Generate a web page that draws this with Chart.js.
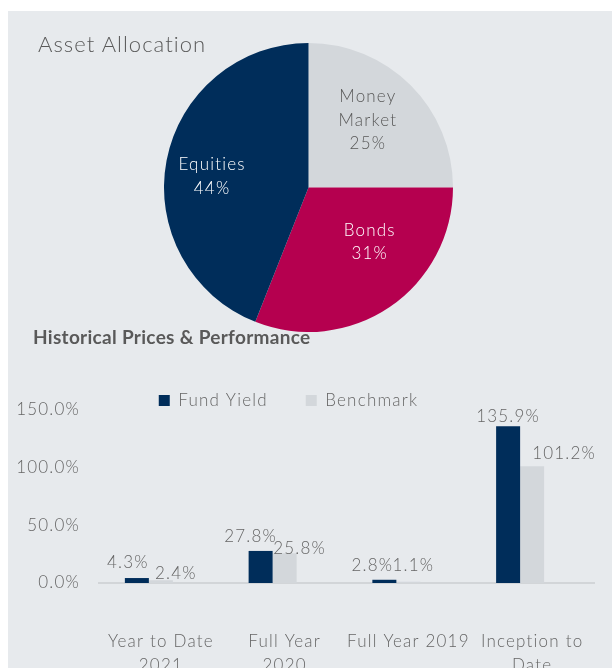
<!DOCTYPE html>
<html>
<head>
<meta charset="utf-8">
<script src="https://cdn.jsdelivr.net/npm/chart.js@4"></script>
<style>
  body { margin: 0; background: #fff; overflow: hidden; width: 612px; height: 668px; position: relative; font-family: Lato, sans-serif; }
  #panel { position: absolute; left: 8px; top: 11px; right: 0; bottom: 0; background: #e7eaed; }
  .title { position: absolute; color: #595959; white-space: nowrap; }
  #allocTitle { left: 38px; top: 31px; font-size: 22px; line-height: 26px; font-weight: 300; letter-spacing: 1.05px; }
  #perfTitle { left: 33px; top: 326px; font-size: 19px; line-height: 22px; font-weight: 700; letter-spacing: 0.3px; }
  #pieBox { position: absolute; left: 164px; top: 43px; width: 289px; height: 289px; }
  #barBox { position: absolute; left: -17px; top: 350px; width: 629px; height: 340px; }
</style>
</head>
<body>
<div id="panel"></div>
<div id="pieBox"><canvas id="pieChart" width="289" height="289"></canvas></div>
<div class="title" id="allocTitle">Asset Allocation</div>
<div class="title" id="perfTitle">Historical Prices &amp; Performance</div>
<div id="barBox"><canvas id="barChart" width="629" height="340"></canvas></div>
<script>
const allocationLabels = ["Money Market", "Bonds", "Equities"];
const allocationValues = [25, 31, 44];

const periods = [["Year to Date", "2021"], ["Full Year", "2020"], "Full Year 2019", ["Inception to", "Date"]];
const fundYield = [4.3, 27.8, 2.8, 135.9];
const benchmark = [2.4, 25.8, 1.1, 101.2];
const spacer = [null, null, null, null];
const yTicks = [0, 50, 100, 150];

const navy = "#002d5a";
const crimson = "#b5004f";
const lightGrey = "#d3d7db";
const textGrey = "#666";
const fontFamily = "Lato, sans-serif";

// hand placed label offsets (Excel had them nudged)
const pieLabelNudge = [[-5, -3], [10, -21], [-7, 6]];
const barLabelNudge = [
    [[-9, 16], [-10, 14], [-12, 14], [0, 10]],
    [[15, 7], [15, 5], [5, 16], [32, 13]],
];

// the source font is tracked out a bit, canvas needs it set by hand
const tracking = {
    id: "tracking",
    beforeUpdate(chart) { chart.ctx.letterSpacing = "1.2px"; },
    beforeDraw(chart) { chart.ctx.letterSpacing = "1.2px"; },
};

const pieLabels = {
    id: "pieLabels",
    afterDatasetsDraw(chart) {
        const ctx = chart.ctx;
        const meta = chart.getDatasetMeta(0);
        ctx.save();
        ctx.font = "300 17px " + fontFamily;
        ctx.textAlign = "center";
        ctx.textBaseline = "middle";
        meta.data.forEach((arc, i) => {
            const mid = (arc.startAngle + arc.endAngle) / 2;
            const r = arc.outerRadius * 0.63;
            const x = arc.x + Math.cos(mid) * r + pieLabelNudge[i][0];
            const y = arc.y + Math.sin(mid) * r + pieLabelNudge[i][1];
            const lines = allocationLabels[i].split(" ").concat(allocationValues[i] + "%");
            const lh = 23.5;
            ctx.fillStyle = i === 0 ? "#595959" : "#fff";
            lines.forEach((line, j) => {
                ctx.fillText(line, x, y + (j - (lines.length - 1) / 2) * lh);
            });
        });
        ctx.restore();
    },
};

const barLabels = {
    id: "barLabels",
    afterDatasetsDraw(chart) {
        const ctx = chart.ctx;
        ctx.save();
        ctx.font = "300 17px " + fontFamily;
        ctx.fillStyle = textGrey;
        ctx.textAlign = "center";
        ctx.textBaseline = "middle";
        [0, 1].forEach((d) => {
            const meta = chart.getDatasetMeta(d);
            meta.data.forEach((bar, i) => {
                const v = chart.data.datasets[d].data[i];
                const [dx, dy] = barLabelNudge[d][i];
                ctx.fillText(v.toFixed(1) + "%", bar.x + dx, bar.y - dy);
            });
        });
        ctx.restore();
    },
};

new Chart(document.getElementById("pieChart"), {
    type: "pie",
    data: {
        labels: allocationLabels,
        datasets: [{
            data: allocationValues,
            backgroundColor: [lightGrey, crimson, navy],
            borderWidth: 0,
        }],
    },
    options: {
        responsive: false,
        animation: false,
        layout: { padding: 0 },
        plugins: { legend: { display: false }, tooltip: { enabled: false } },
    },
    plugins: [tracking, pieLabels],
});

new Chart(document.getElementById("barChart"), {
    type: "bar",
    data: {
        labels: periods,
        datasets: [
            { label: "Fund Yield", data: fundYield, backgroundColor: navy },
            { label: "Benchmark", data: benchmark, backgroundColor: lightGrey },
            { label: "", data: spacer, backgroundColor: "rgba(0,0,0,0)" },
        ],
    },
    options: {
        responsive: false,
        animation: false,
        layout: { padding: { left: 0, right: 18, top: 4, bottom: 0 } },
        datasets: { bar: { categoryPercentage: 0.582, barPercentage: 1 } },
        scales: {
            x: {
                grid: { display: false, drawTicks: true, tickLength: 47 },
                border: { color: "#d2d5d8", width: 2 },
                ticks: {
                    color: textGrey,
                    font: { family: fontFamily, size: 17, weight: 300, lineHeight: 1.4 },
                    padding: 0,
                    maxRotation: 0,
                    autoSkip: false,
                },
                afterFit: (scale) => { scale.height = 107; },
            },
            y: {
                min: yTicks[0],
                max: yTicks[yTicks.length - 1],
                grid: { display: false, drawTicks: false },
                border: { display: false },
                ticks: {
                    stepSize: yTicks[1] - yTicks[0],
                    color: textGrey,
                    font: { family: fontFamily, size: 17, weight: 300 },
                    padding: 19,
                    callback: (v) => v.toFixed(1) + "%",
                },
                afterFit: (scale) => { scale.width = 116; },
            },
        },
        plugins: {
            legend: {
                position: "top",
                maxHeight: 56,
                labels: {
                    color: textGrey,
                    boxWidth: 11,
                    boxHeight: 11,
                    padding: 38,
                    font: { family: fontFamily, size: 17, weight: 300 },
                    filter: (item) => item.text !== "",
                },
            },
            tooltip: { enabled: false },
        },
    },
    plugins: [tracking, barLabels],
});
</script>
</body>
</html>
